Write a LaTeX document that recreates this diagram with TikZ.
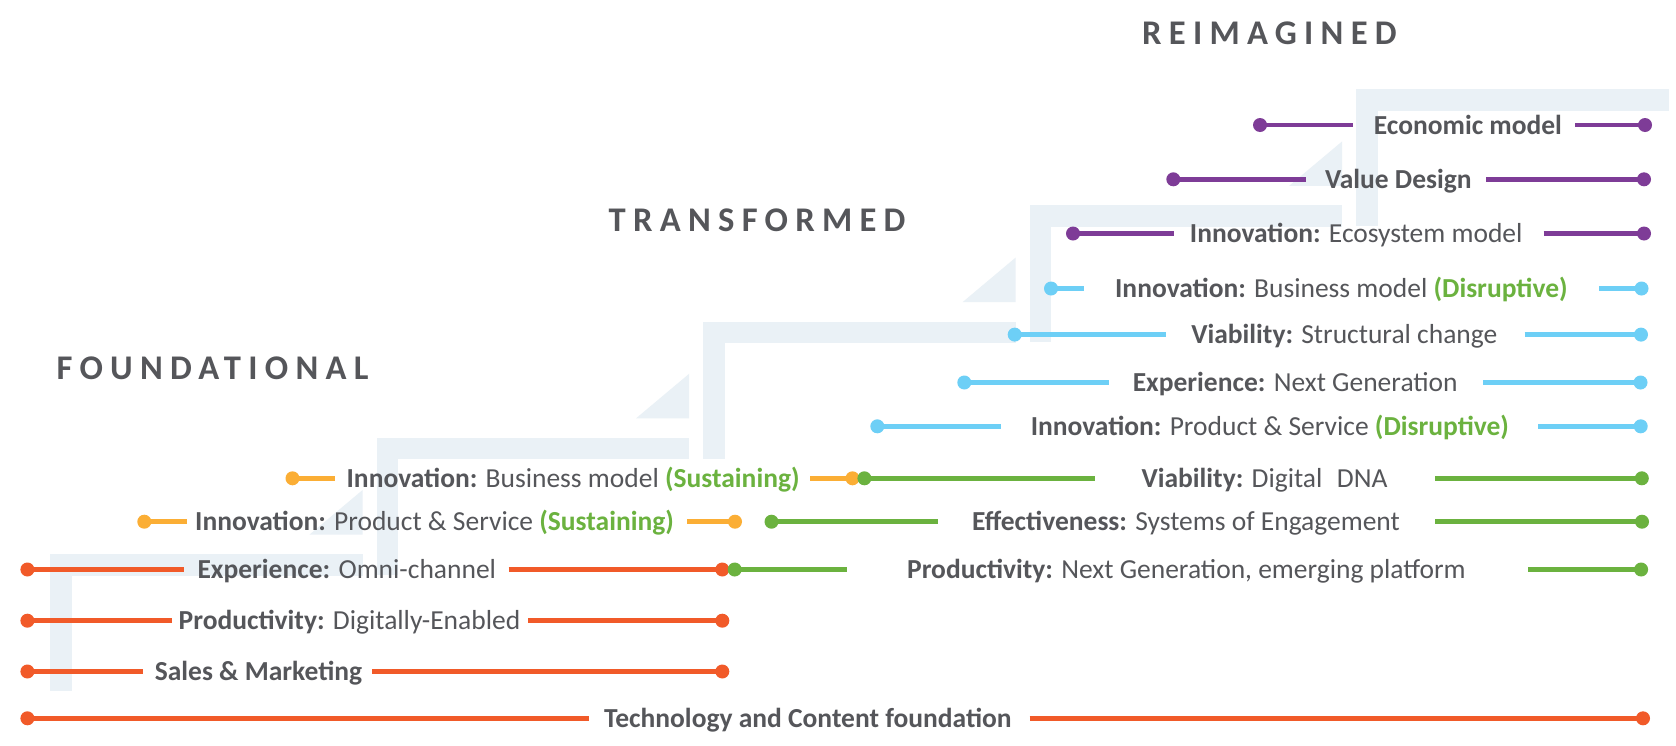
\documentclass[tikz,border=0pt]{standalone}
\usepackage{fontspec}
\setmainfont{Carlito}
\newfontfamily\headfont[LetterSpace=21]{Carlito}
\definecolor{txtgray}{HTML}{55565A}
\definecolor{cred}{HTML}{F15A29}
\definecolor{corange}{HTML}{FBAE35}
\definecolor{cgreen}{HTML}{6BB23F}
\definecolor{cblue}{HTML}{6DCFF6}
\definecolor{cpurple}{HTML}{7E3C97}
\definecolor{bgstep}{HTML}{EAF1F6}
\tikzset{
  enddot/.style={circle, fill=#1, draw=none, inner sep=0pt, minimum size=14pt},
  lineseg/.style={draw=#1, line width=4.8pt},
  lbl/.style={inner sep=0pt, anchor=base, text=txtgray, font=\fontsize{27.5}{33}\selectfont},
  heading/.style={inner sep=0pt, anchor=base west, text=txtgray, font=\headfont\bfseries\fontsize{34.6}{40}\selectfont},
  bgshape/.style={fill=bgstep, draw=none},
}
\newcommand{\sus}[1]{\textcolor{cgreen}{\textbf{#1}}}
\newcommand{\diagrow}[9]{%
  \coordinate (#1a) at (#5,#3);
  \coordinate (#1b) at (#8,#3);
  \node[enddot=#2] (#1L) at (#4,#3) {};
  \node[enddot=#2] (#1R) at (#9,#3) {};
  \node[lbl] (#1t) at (#6,#3+9) {#7};
  \draw[lineseg=#2] (#1L.center) -- (#1a);
  \draw[lineseg=#2] (#1b) -- (#1R.center);
}
\begin{document}
\begin{tikzpicture}[x=1pt,y=-1pt]
\fill[white] (0,0) rectangle (1676,745);
\useasboundingbox (0,0) rectangle (1676,745);
% background staircase
\foreach \k in {0,...,4}{
  \pgfmathsetmacro\xo{50+326.5*\k}
  \pgfmathsetmacro\yo{554-116.2*\k}
  \fill[bgshape] (\xo,\yo) rectangle ++(21.5,137);
  \fill[bgshape] (\xo,\yo) rectangle ++(312.6,21.5);
}
\foreach \k in {0,...,3}{
  \pgfmathsetmacro\xr{50+326.5*\k+312.6}
  \pgfmathsetmacro\yb{554-116.2*\k-19.5}
  \fill[bgshape] (\xr-53,\yb) -- (\xr,\yb) -- (\xr,\yb-44.5) -- cycle;
}
% headings
\node[heading] (hF) at (56.5,379.3) {FOUNDATIONAL};
\node[heading] (hT) at (608.5,231.7) {TRANSFORMED};
\node[heading] (hR) at (1142,44) {REIMAGINED};
% rows
\diagrow{r1}{cpurple}{125}{1260}{1352.7}{1467.9}{\textbf{Economic model}}{1575}{1645}
\diagrow{r2}{cpurple}{179.3}{1173.3}{1306}{1398.4}{\textbf{Value Design}}{1486}{1644}
\diagrow{r3}{cpurple}{233.5}{1073}{1173.5}{1356.2}{\textbf{Innovation:} Ecosystem model}{1543.5}{1644}
\diagrow{r4}{cblue}{288.5}{1051}{1084}{1341.4}{\textbf{Innovation:} Business model \sus{(Disruptive)}}{1599.3}{1641.5}
\diagrow{r5}{cblue}{334.6}{1014.7}{1165.5}{1344.3}{\textbf{Viability:} Structural change}{1524.5}{1641}
\diagrow{r6}{cblue}{382.5}{964.3}{1108.7}{1295.2}{\textbf{Experience:} Next Generation}{1483}{1640.5}
\diagrow{r7}{cblue}{426.3}{877.3}{1000.8}{1269.9}{\textbf{Innovation:} Product \& Service \sus{(Disruptive)}}{1538}{1640.7}
\diagrow{r8o}{corange}{478.3}{292.5}{335}{573.1}{\textbf{Innovation:} Business model \sus{(Sustaining)}}{810}{852.5}
\diagrow{r8g}{cgreen}{478.3}{864.4}{1094.6}{1264.5}{\textbf{Viability:} Digital\hspace{0.3em} DNA}{1435}{1641.8}
\diagrow{r9o}{corange}{521.7}{144.3}{186.7}{434.5}{\textbf{Innovation:} Product \& Service \sus{(Sustaining)}}{687}{735}
\diagrow{r9g}{cgreen}{521.7}{771.5}{937.5}{1186}{\textbf{Effectiveness:} Systems of Engagement}{1435}{1642}
\diagrow{r10r}{cred}{569.5}{27.4}{184}{346.8}{\textbf{Experience:} Omni-channel}{508.5}{722.3}
\diagrow{r10g}{cgreen}{569.5}{734.7}{846.8}{1186.4}{\textbf{Productivity:} Next Generation, emerging platform}{1528}{1641.1}
\diagrow{r11}{cred}{620.7}{27.4}{172}{349.5}{\textbf{Productivity:} Digitally-Enabled}{528}{722.3}
\diagrow{r12}{cred}{671.5}{27.4}{142.5}{258.5}{\textbf{Sales \& Marketing}}{372}{722.3}
\diagrow{r13}{cred}{718.3}{27.4}{588.8}{807.8}{\textbf{Technology and Content foundation}}{1029.6}{1643}
\end{tikzpicture}
\end{document}
